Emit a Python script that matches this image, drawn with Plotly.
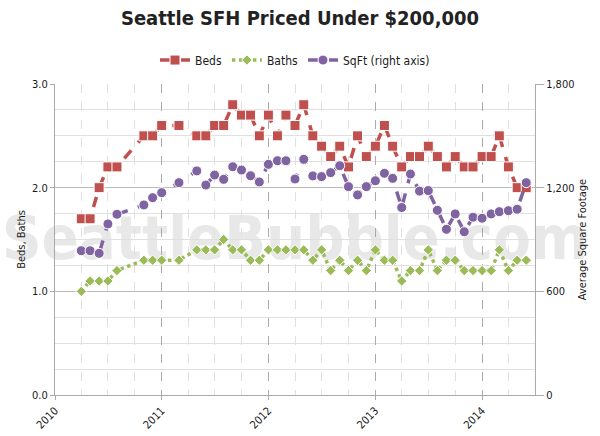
import plotly.graph_objects as go

dates = [
    "2010-04-01", "2010-05-01", "2010-06-01", "2010-07-01", "2010-08-01",
    "2010-11-01", "2010-12-01",
    "2011-01-01", "2011-03-01", "2011-05-01", "2011-06-01", "2011-07-01",
    "2011-08-01", "2011-09-01", "2011-10-01", "2011-11-01", "2011-12-01",
    "2012-01-01", "2012-02-01", "2012-03-01", "2012-04-01", "2012-05-01",
    "2012-06-01", "2012-07-01", "2012-08-01", "2012-09-01", "2012-10-01",
    "2012-11-01", "2012-12-01",
    "2013-01-01", "2013-02-01", "2013-03-01", "2013-04-01", "2013-05-01",
    "2013-06-01", "2013-07-01", "2013-08-01", "2013-09-01", "2013-10-01",
    "2013-11-01", "2013-12-01",
    "2014-01-01", "2014-02-01", "2014-03-01", "2014-04-01", "2014-05-01",
    "2014-06-01",
]

beds = [
    1.7, 1.7, 2.0, 2.2, 2.2, 2.5, 2.5,
    2.6, 2.6, 2.5, 2.5, 2.6, 2.6, 2.8, 2.7, 2.7, 2.5,
    2.7, 2.5, 2.7, 2.6, 2.8, 2.5, 2.4, 2.3, 2.4, 2.2, 2.5, 2.3,
    2.4, 2.6, 2.4, 2.2, 2.3, 2.3, 2.4, 2.3, 2.2, 2.3, 2.2, 2.2,
    2.3, 2.3, 2.5, 2.2, 2.0, 2.0,
]

baths = [
    1.0, 1.1, 1.1, 1.1, 1.2, 1.3, 1.3,
    1.3, 1.3, 1.4, 1.4, 1.4, 1.5, 1.4, 1.4, 1.3, 1.3,
    1.4, 1.4, 1.4, 1.4, 1.4, 1.3, 1.4, 1.2, 1.3, 1.2, 1.3, 1.2,
    1.4, 1.3, 1.3, 1.1, 1.2, 1.2, 1.4, 1.2, 1.3, 1.3, 1.2, 1.2,
    1.2, 1.2, 1.4, 1.2, 1.3, 1.3,
]

sqft = [
    835, 835, 820, 990, 1046, 1100, 1142,
    1171, 1229, 1297, 1215, 1273, 1248, 1321, 1302, 1269, 1233,
    1335, 1356, 1356, 1250, 1364, 1268, 1264, 1287, 1327, 1206, 1158, 1206,
    1240, 1283, 1254, 1085, 1279, 1180, 1183, 1069, 959, 1048, 945, 1029,
    1023, 1048, 1061, 1067, 1075, 1229,
]

title_text = "Seattle SFH Priced Under $200,000"
left_title = "Beds, Baths"
right_title = "Average Square Footage"
watermark = "SeattleBubble.com"

RED = "#c0504d"
GREEN = "#9bbb59"
PURPLE = "#8064a2"
FONT = "DejaVu Sans Condensed, sans-serif"
TXT = "#1a1a1a"

fig = go.Figure()
fig.add_trace(go.Scatter(
    x=dates, y=beds, name="Beds", mode="lines+markers",
    line=dict(color=RED, width=3.5, dash="dash"),
    marker=dict(symbol="square", size=10, color=RED, line=dict(color="white", width=1)),
))
fig.add_trace(go.Scatter(
    x=dates, y=baths, name="Baths", mode="lines+markers",
    line=dict(color=GREEN, width=3.5, dash="dot"),
    marker=dict(symbol="diamond", size=8, color=GREEN, line=dict(color="white", width=1)),
))
fig.add_trace(go.Scatter(
    x=dates, y=sqft, name="SqFt (right axis)", mode="lines+markers", yaxis="y2",
    line=dict(color=PURPLE, width=3.5, dash="dash"),
    marker=dict(symbol="circle", size=10, color=PURPLE, line=dict(color="white", width=1)),
))

fig.update_layout(
    width=600, height=436,
    margin=dict(l=55, r=65, t=84, b=41, autoexpand=False),
    paper_bgcolor="white", plot_bgcolor="white",
    font=dict(family=FONT, size=11, color=TXT),
    title=dict(text="<b>" + title_text + "</b>", x=0.5, xanchor="center", y=0.958, yanchor="middle",
               font=dict(family=FONT, size=20, color="#222")),
    showlegend=True,
    legend=dict(orientation="h", x=0.5, xanchor="center", y=1.077, yanchor="middle",
                font=dict(family=FONT, size=12, color=TXT), itemwidth=30,
                bgcolor="rgba(0,0,0,0)"),
    xaxis=dict(
        type="date", range=["2010-01-01", "2014-07-01"],
        dtick="M12", tick0="2010-01-01", tickformat="%Y", tickangle=-45,
        showgrid=True, gridcolor="#aaaaaa", griddash="dash", gridwidth=1,
        minor=dict(dtick="M3", showgrid=True, gridcolor="#e0e0e0", gridwidth=1),
        showline=True, linecolor="#aaaaaa", linewidth=1,
        ticks="outside", ticklen=4, tickcolor="#aaaaaa",
        tickfont=dict(family=FONT, size=11, color=TXT),
        zeroline=False,
    ),
    yaxis=dict(
        range=[0, 3], dtick=1, tickformat=".1f",
        showgrid=True, gridcolor="#bbbbbb", gridwidth=1,
        minor=dict(dtick=0.25, showgrid=True, gridcolor="#e0e0e0", gridwidth=1),
        showline=True, linecolor="#aaaaaa", linewidth=1,
        ticks="outside", ticklen=4, tickcolor="#aaaaaa", zeroline=False,
        tickfont=dict(family=FONT, size=11, color=TXT),
        title=dict(text=left_title, font=dict(family=FONT, size=11, color=TXT), standoff=4),
    ),
    yaxis2=dict(
        range=[0, 1800], dtick=600, tickformat=",d", overlaying="y", side="right",
        showgrid=False, showline=True, linecolor="#aaaaaa", linewidth=1,
        ticks="outside", ticklen=8, tickcolor="#aaaaaa", zeroline=False,
        tickfont=dict(family=FONT, size=11, color=TXT),
        title=dict(text=right_title, font=dict(family=FONT, size=11, color=TXT), standoff=4),
    ),
    shapes=[dict(
        type="rect", xref="paper", yref="paper", x0=-0.1, x1=1.1, y0=0.38, y1=0.66,
        layer="between", line=dict(width=0), fillcolor="rgba(0,0,0,0)",
        label=dict(text="<b>" + watermark + "</b>", textposition="middle center",
                   font=dict(family=FONT, size=61, color="rgba(150,150,150,0.22)")),
    )],
)

fig.write_html("out.html", config={"displayModeBar": False},
               post_script="document.body.style.margin='0';")
